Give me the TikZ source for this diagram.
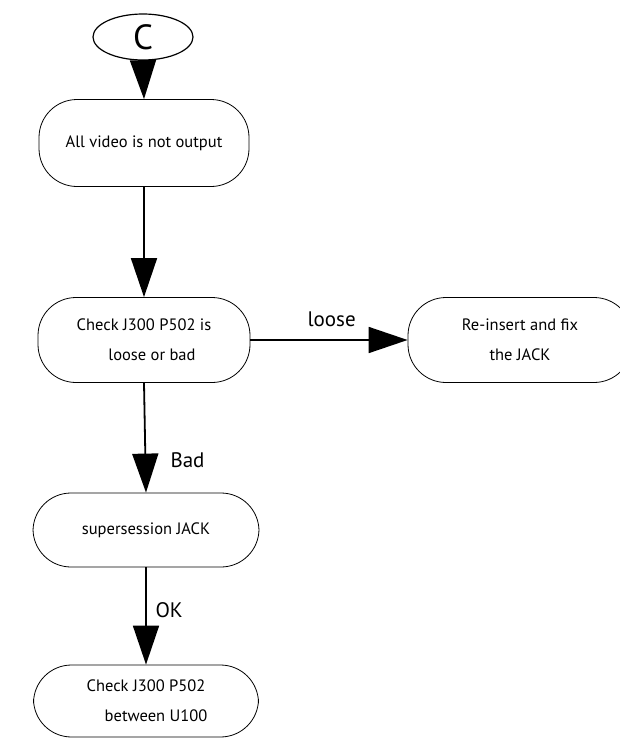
\documentclass[tikz,border=0pt]{standalone}
\usepackage{fontspec}
\setmainfont{PT Sans}
\usetikzlibrary{arrows.meta,shapes.geometric}
\tikzset{
  box/.style={draw, line width=0.8pt, rounded corners=38pt, inner sep=0pt, font=\fontsize{16.5}{30}\selectfont, align=center},
  conn/.style={line width=1.8pt, -{Triangle[length=39pt,width=26pt]}},
  lab/.style={font=\fontsize{21}{22}\selectfont, anchor=base west}
}
\begin{document}
\begin{tikzpicture}[x=1pt,y=-1pt]
\useasboundingbox (0,0) rectangle (620,742);
\clip (0,0) rectangle (620,742);
\node[draw, line width=1.2pt, ellipse, minimum width=100pt, minimum height=46pt, inner sep=0pt, font=\fontsize{35}{35}\selectfont] (c) at (143,37) {C};
\node[box, minimum width=210pt, minimum height=87pt] (n1) at (144,143) {All video is not output};
\node[box, minimum width=212pt, minimum height=85pt] (n2) at (144,340) {Check J300 P502 is\\\hspace*{16pt}loose or bad};
\node[box, minimum width=224pt, minimum height=85pt] (n5) at (520,340) {Re-insert and fix\\the JACK};
\node[box, minimum width=226pt, minimum height=74pt] (n3) at (146,530) {supersession JACK};
\node[box, minimum width=225pt, minimum height=72pt] (n4) at (146,701) {Check J300 P502\\\hspace*{20pt}between U100};
\draw[conn] (c.south) -- (n1.north);
\draw[conn] (n1.south) -- (n2.north);
\draw[conn] (n2.east) -- (n5.west);
\draw[conn] (n2.south) -- (n3.north);
\draw[conn] (n3.south) -- (n4.north);
\node[lab] (l1) at (304,326) {loose};
\node[lab] (l2) at (167,467) {Bad};
\node[lab] (l3) at (152,617) {OK};
\end{tikzpicture}
\end{document}
